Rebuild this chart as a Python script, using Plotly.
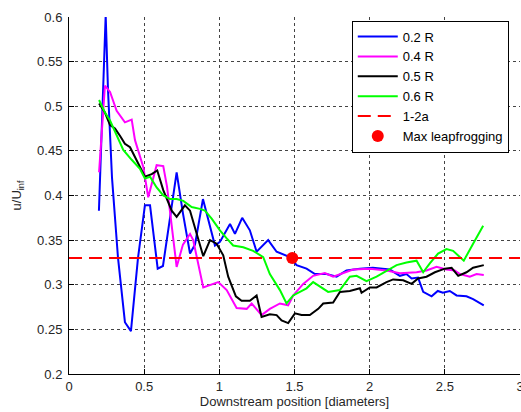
import plotly.graph_objects as go

# ---- data ----
x_02 = [0.199, 0.219, 0.244, 0.259, 0.286, 0.326, 0.372, 0.412, 0.459, 0.505, 0.539, 0.590, 0.625,
        0.672, 0.716, 0.758, 0.805, 0.838, 0.891, 0.971, 1.004, 1.071, 1.104, 1.152, 1.203, 1.248,
        1.325, 1.381, 1.469, 1.514, 1.580, 1.636, 1.713, 1.780, 1.846, 1.935, 2.021, 2.134, 2.201,
        2.245, 2.279, 2.322, 2.356, 2.412, 2.453, 2.487, 2.533, 2.578, 2.644, 2.688, 2.759]
y_02 = [0.383, 0.480, 0.602, 0.520, 0.420, 0.330, 0.258, 0.248, 0.330, 0.389, 0.389, 0.318, 0.321,
        0.375, 0.426, 0.380, 0.335, 0.345, 0.396, 0.344, 0.348, 0.368, 0.357, 0.375, 0.361, 0.337,
        0.350, 0.337, 0.331, 0.322, 0.318, 0.312, 0.312, 0.309, 0.316, 0.318, 0.319, 0.317, 0.310,
        0.312, 0.307, 0.308, 0.292, 0.287, 0.293, 0.291, 0.293, 0.288, 0.287, 0.284, 0.277]

x_04 = [0.200, 0.218, 0.239, 0.273, 0.317, 0.372, 0.417, 0.439, 0.494, 0.527, 0.560, 0.583, 0.627,
        0.652, 0.716, 0.758, 0.805, 0.826, 0.893, 0.959, 0.993, 1.049, 1.115, 1.182, 1.215, 1.281,
        1.336, 1.403, 1.458, 1.491, 1.558, 1.624, 1.702, 1.757, 1.802, 1.890, 2.001, 2.112, 2.201,
        2.312, 2.378, 2.445, 2.511, 2.566, 2.600, 2.666, 2.711, 2.759]
y_04 = [0.426, 0.473, 0.523, 0.516, 0.495, 0.482, 0.485, 0.462, 0.432, 0.398, 0.421, 0.434, 0.433,
        0.410, 0.320, 0.345, 0.357, 0.350, 0.297, 0.301, 0.303, 0.294, 0.274, 0.273, 0.279, 0.266,
        0.273, 0.279, 0.277, 0.288, 0.301, 0.310, 0.313, 0.309, 0.312, 0.317, 0.318, 0.316, 0.313,
        0.314, 0.316, 0.320, 0.317, 0.316, 0.312, 0.309, 0.312, 0.311]

x_05 = [0.200, 0.239, 0.273, 0.306, 0.339, 0.372, 0.406, 0.439, 0.472, 0.505, 0.550, 0.587, 0.627,
        0.683, 0.716, 0.771, 0.805, 0.849, 0.893, 0.938, 0.982, 1.026, 1.059, 1.110, 1.148, 1.203,
        1.248, 1.281, 1.336, 1.381, 1.414, 1.458, 1.503, 1.547, 1.602, 1.658, 1.691, 1.757, 1.802,
        1.868, 1.935, 1.946, 2.001, 2.046, 2.112, 2.156, 2.223, 2.279, 2.322, 2.378, 2.434, 2.500,
        2.545, 2.589, 2.644, 2.688, 2.759]
y_05 = [0.503, 0.493, 0.479, 0.475, 0.467, 0.458, 0.454, 0.443, 0.432, 0.421, 0.424, 0.428, 0.406,
        0.383, 0.376, 0.389, 0.383, 0.357, 0.332, 0.350, 0.346, 0.333, 0.309, 0.287, 0.282, 0.282,
        0.288, 0.264, 0.267, 0.266, 0.260, 0.257, 0.268, 0.266, 0.266, 0.273, 0.279, 0.280, 0.292,
        0.293, 0.296, 0.291, 0.297, 0.297, 0.303, 0.306, 0.305, 0.301, 0.307, 0.309, 0.314, 0.318,
        0.319, 0.310, 0.314, 0.319, 0.322]

x_06 = [0.200, 0.239, 0.273, 0.299, 0.328, 0.361, 0.417, 0.472, 0.505, 0.539, 0.583, 0.627, 0.672,
        0.716, 0.760, 0.816, 0.871, 0.904, 0.949, 1.004, 1.049, 1.092, 1.159, 1.225, 1.292, 1.336,
        1.403, 1.447, 1.491, 1.580, 1.624, 1.680, 1.724, 1.802, 1.868, 1.913, 1.979, 2.046, 2.179,
        2.245, 2.312, 2.356, 2.400, 2.455, 2.511, 2.555, 2.600, 2.626, 2.688, 2.755]
y_06 = [0.507, 0.493, 0.484, 0.474, 0.462, 0.451, 0.440, 0.430, 0.419, 0.421, 0.409, 0.400, 0.396,
        0.396, 0.394, 0.387, 0.385, 0.383, 0.374, 0.361, 0.352, 0.344, 0.342, 0.338, 0.331, 0.312,
        0.294, 0.279, 0.288, 0.296, 0.303, 0.297, 0.292, 0.294, 0.309, 0.310, 0.304, 0.309, 0.322,
        0.325, 0.327, 0.314, 0.324, 0.335, 0.340, 0.338, 0.331, 0.327, 0.346, 0.366]

ref_x = [0, 3]
ref_y = [0.33, 0.33]

max_x = [1.485]
max_y = [0.33]

series_names = ["0.2 R", "0.4 R", "0.5 R", "0.6 R", "1-2a", "Max leapfrogging"]

x_ticks = [0, 0.5, 1, 1.5, 2, 2.5, 3]
x_ticktext = ["0", "0.5", "1", "1.5", "2", "2.5", "3"]
y_ticks = [0.2, 0.25, 0.3, 0.35, 0.4, 0.45, 0.5, 0.55, 0.6]
y_ticktext = ["0.2", "0.25", "0.3", "0.35", "0.4", "0.45", "0.5", "0.55", "0.6"]

# ---- figure ----
FONT = "Liberation Sans, Arial, sans-serif"
TXT = "#262626"
fig = go.Figure()
for xs, ys, name, col in [(x_02, y_02, series_names[0], "#0000FF"),
                          (x_04, y_04, series_names[1], "#FF00FF"),
                          (x_05, y_05, series_names[2], "#000000"),
                          (x_06, y_06, series_names[3], "#00FF00")]:
    fig.add_trace(go.Scatter(x=xs, y=ys, mode="lines", name=name,
                             line=dict(color=col, width=2)))

fig.add_trace(go.Scatter(x=ref_x, y=ref_y, mode="lines", name=series_names[4],
                         line=dict(color="#FF0000", width=2, dash="13px,7px")))
fig.add_trace(go.Scatter(x=max_x, y=max_y, mode="markers", name=series_names[5],
                         marker=dict(color="#FF0000", size=12, symbol="circle")))

axis_common = dict(
    showline=True, linecolor="black", linewidth=1,
    ticks="inside", ticklen=5, tickcolor="black",
    showgrid=True, gridcolor="#444444", griddash="dot", gridwidth=1,
    zeroline=False,
    tickfont=dict(family=FONT, size=13, color=TXT),
)

fig.update_xaxes(range=[0, 3], tickvals=x_ticks, ticktext=x_ticktext,
                 title=dict(text="Downstream position [diameters]",
                            font=dict(family=FONT, size=13, color=TXT), standoff=4),
                 automargin=False, ticklabeloverflow="allow",
                 **axis_common)
fig.update_yaxes(range=[0.2, 0.6], tickvals=y_ticks, ticktext=y_ticktext,
                 title=dict(text="u/U<sub>inf</sub>",
                            font=dict(family=FONT, size=13, color=TXT), standoff=12),
                 ticklabelstandoff=3, automargin=False, ticklabeloverflow="allow",
                 **axis_common)

fig.update_layout(
    width=521, height=412,
    margin=dict(l=69, r=1, t=17, b=38, pad=0),
    paper_bgcolor="white", plot_bgcolor="white",
    font=dict(family=FONT, size=13, color="black"),
    showlegend=True,
    legend=dict(x=0.627, y=0.99, xanchor="left", yanchor="top",
                bgcolor="white", bordercolor="black", borderwidth=1,
                font=dict(family=FONT, size=13, color="black"),
                itemwidth=40, tracegroupgap=0),
)

fig.write_html("out.html", config={"displayModeBar": False},
               post_script="document.body.style.margin='0';document.body.style.overflow='hidden';")
